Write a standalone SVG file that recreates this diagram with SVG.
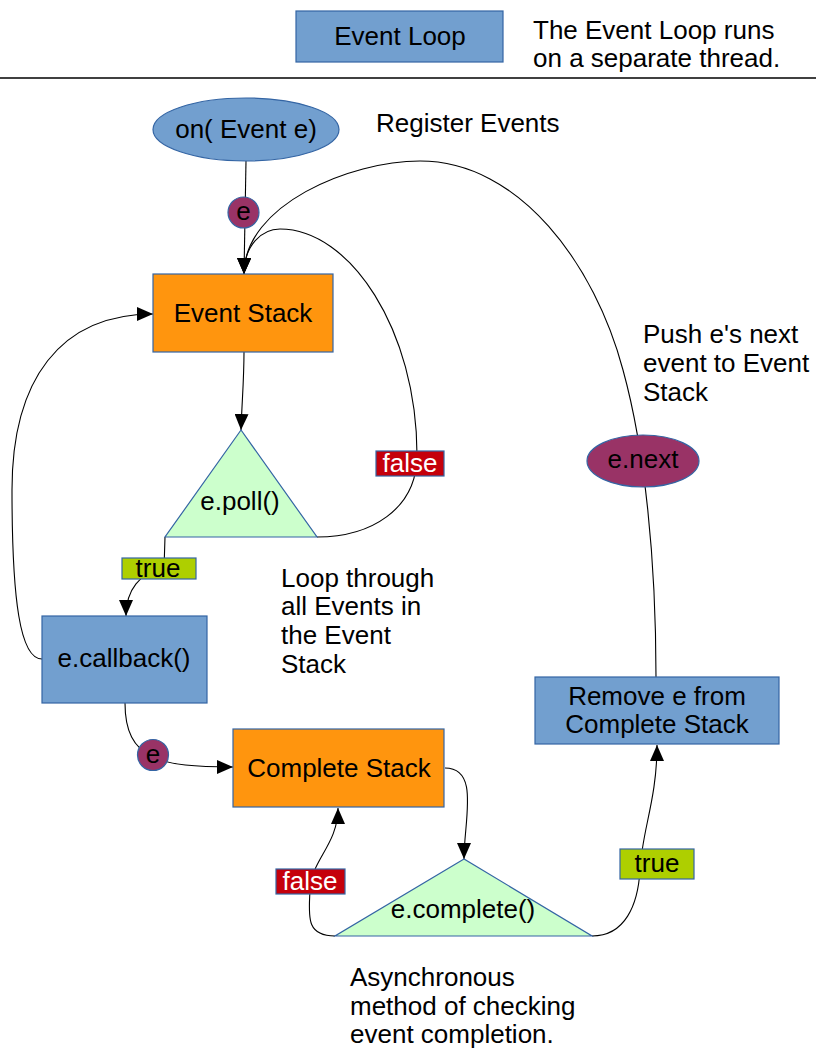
<svg xmlns="http://www.w3.org/2000/svg" width="816" height="1056" viewBox="0 0 816 1056">
<style>
text{font-family:"Liberation Sans",Arial,sans-serif;font-size:26px;fill:#000}
.c{text-anchor:middle}
.blue{fill:#729fcf;stroke:#3465a4;stroke-width:1.2}
.orange{fill:#ff950e;stroke:#3465a4;stroke-width:1.2}
.green{fill:#ccffcc;stroke:#3465a4;stroke-width:1.2}
.purple{fill:#993366;stroke:#3465a4;stroke-width:1.2}
.red{fill:#c5000b;stroke:#3465a4;stroke-width:1.2}
.lime{fill:#aecf00;stroke:#3465a4;stroke-width:1.2}
.w{fill:#fff}
.conn path{fill:none;stroke:#000;stroke-width:1.1}
.arr{marker-end:url(#ah)}
</style>
<defs>
<marker id="ah" markerUnits="userSpaceOnUse" markerWidth="16" markerHeight="14" refX="16" refY="7" orient="auto" viewBox="0 0 16 14">
<path d="M0,0 L16,7 L0,14 z" fill="#000"/>
</marker>
</defs>
<rect width="816" height="1056" fill="#fff"/>

<g id="legend">
<rect class="blue" x="296" y="11" width="207" height="51"/>
<text class="c" x="400" y="45">Event Loop</text>
<text x="533" y="39">The Event Loop runs</text>
<text x="533" y="67">on a separate thread.</text>
<line x1="0" y1="78" x2="816" y2="78" stroke="#000" stroke-width="1.5"/>
</g>

<g class="conn" id="connectors">
<path d="M246,161 L244,274" class="arr"/>
<path d="M656,677 C656,560 645,450 623,370 C595,265 520,161 420,161 C350,161 244,205 244,274" class="arr"/>
<path d="M317,537 C370,537 417,510 417,455 C417,330 350,229 280,229 C262,229 244,245 244,274" class="arr"/>
<path d="M244,352 C244,380 242,400 241,430" class="arr"/>
<path d="M165,537 L164,569 C140,572 126,590 126,616" class="arr"/>
<path d="M42,659 C20,659 12,600 12,490 C12,380 60,314 153,314" class="arr"/>
<path d="M125,703 C125,760 160,767 233,767" class="arr"/>
<path d="M445,768 C480,768 464,820 464,859" class="arr"/>
<path d="M335,936 C305,936 309,915 310,890 C311,860 338,845 338,808" class="arr"/>
<path d="M592,936 C625,936 638,905 640,870 C642,830 657,800 657,745" class="arr"/>
</g>

<g id="on-event">
<ellipse class="blue" cx="246" cy="129.5" rx="93" ry="31.5"/>
<text class="c" x="246" y="138">on( Event e)</text>
</g>
<text x="376" y="132">Register Events</text>

<g id="e1">
<circle class="purple" cx="243.5" cy="212.5" r="15.5"/>
<text class="c" x="243.5" y="220">e</text>
</g>

<g id="event-stack">
<rect class="orange" x="153" y="274" width="180" height="78"/>
<text class="c" x="243" y="322">Event Stack</text>
</g>

<g id="poll">
<polygon class="green" points="241,430 165,537 317,537"/>
<text class="c" x="240" y="510">e.poll()</text>
</g>

<g id="false1">
<rect class="red" x="376" y="451" width="68" height="25"/>
<text class="c w" x="410" y="472">false</text>
</g>

<g id="true1">
<rect class="lime" x="122" y="558" width="74" height="21"/>
<text class="c" x="158" y="577">true</text>
</g>

<g id="callback">
<rect class="blue" x="42" y="616" width="165" height="87"/>
<text class="c" x="124" y="667">e.callback()</text>
</g>

<text x="281" y="587">Loop through</text>
<text x="281" y="615">all Events in</text>
<text x="281" y="644">the Event</text>
<text x="281" y="673">Stack</text>

<g id="e2">
<circle class="purple" cx="153" cy="755" r="15.5"/>
<text class="c" x="153" y="763">e</text>
</g>

<g id="complete-stack">
<rect class="orange" x="233" y="729" width="211" height="78"/>
<text class="c" x="339" y="777">Complete Stack</text>
</g>

<g id="complete">
<polygon class="green" points="464,859 335,936 592,936"/>
<text class="c" x="463" y="918">e.complete()</text>
</g>

<g id="false2">
<rect class="red" x="276" y="869" width="69" height="25"/>
<text class="c w" x="310" y="890">false</text>
</g>

<g id="true2">
<rect class="lime" x="620" y="849" width="74" height="30"/>
<text class="c" x="657" y="872">true</text>
</g>

<g id="remove">
<rect class="blue" x="535" y="677" width="244" height="67"/>
<text class="c" x="657" y="705">Remove e from</text>
<text class="c" x="657" y="733">Complete Stack</text>
</g>

<g id="enext">
<ellipse class="purple" cx="643" cy="461" rx="56" ry="26"/>
<text class="c" x="643" y="468">e.next</text>
</g>

<text x="643" y="343">Push e's next</text>
<text x="643" y="372">event to Event</text>
<text x="643" y="401">Stack</text>

<text x="350" y="986">Asynchronous</text>
<text x="350" y="1015">method of checking</text>
<text x="350" y="1043">event completion.</text>
</svg>
